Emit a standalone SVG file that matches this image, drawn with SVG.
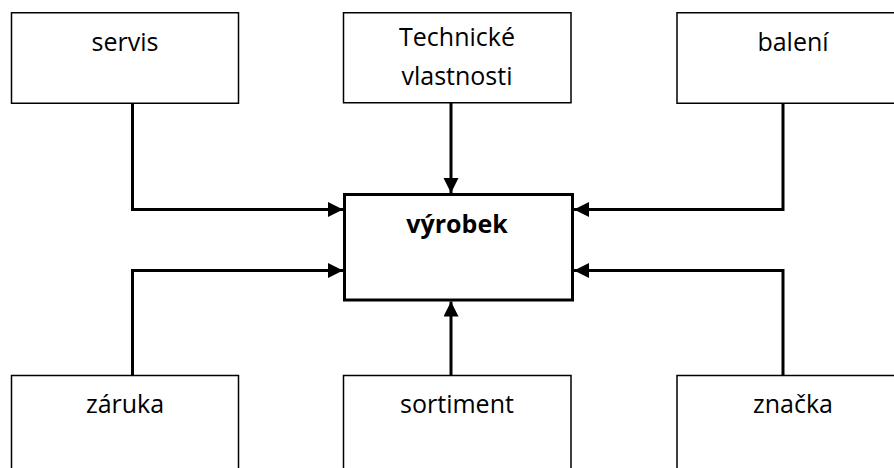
<svg xmlns="http://www.w3.org/2000/svg" width="894" height="468" viewBox="0 0 894 468">
<style>
.box{fill:#fff;stroke:#000;stroke-width:1.5}
.main{fill:#fff;stroke:#000;stroke-width:3}
.lbl{font-family:"Open Sans","Liberation Sans",sans-serif;font-size:25px;fill:#000;text-anchor:middle}
.bold{font-weight:bold}
.con{fill:none;stroke:#000;stroke-width:3}
</style>
<defs>
<marker id="arr" markerUnits="userSpaceOnUse" markerWidth="16" markerHeight="16" refX="15" refY="7.5" orient="auto">
<path d="M0,0 L15,7.5 L0,15 Z" fill="#000"/>
</marker>
</defs>
<rect width="894" height="468" fill="#fff"/>
<g id="servis"><rect class="box" x="11.5" y="12.75" width="227" height="90.5"/><text class="lbl" x="125" y="51">servis</text></g>
<g id="technicke"><rect class="box" x="343.5" y="12.75" width="227.5" height="90"/><text class="lbl" x="457" y="46">Technické</text><text class="lbl" x="457" y="85">vlastnosti</text></g>
<g id="baleni"><rect class="box" x="677" y="12.75" width="230" height="90.5"/><text class="lbl" x="793" y="51">balení</text></g>
<g id="vyrobek"><rect class="main" x="344.5" y="194.5" width="228" height="105.5"/><text class="lbl bold" x="457" y="233">výrobek</text></g>
<g id="zaruka"><rect class="box" x="11.5" y="375.5" width="227" height="110"/><text class="lbl" x="125" y="413">záruka</text></g>
<g id="sortiment"><rect class="box" x="343.5" y="375.5" width="227.5" height="110"/><text class="lbl" x="457" y="413">sortiment</text></g>
<g id="znacka"><rect class="box" x="677" y="375.5" width="230" height="110"/><text class="lbl" x="793" y="413">značka</text></g>
<g id="connectors">
<path class="con" d="M132.5,103 V209.5 H343" marker-end="url(#arr)"/>
<path class="con" d="M451,103 V193" marker-end="url(#arr)"/>
<path class="con" d="M783,103 V209.5 H574" marker-end="url(#arr)"/>
<path class="con" d="M132.5,375 V270.5 H343" marker-end="url(#arr)"/>
<path class="con" d="M451,375 V301.5" marker-end="url(#arr)"/>
<path class="con" d="M783,375 V270.5 H574" marker-end="url(#arr)"/>
</g>
</svg>
